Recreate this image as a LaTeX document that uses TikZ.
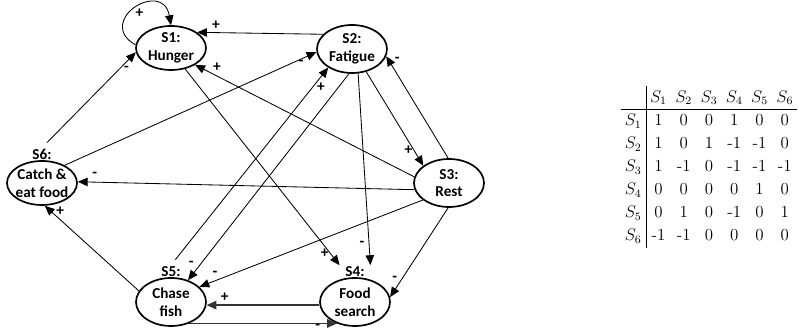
\documentclass[tikz,border=0pt]{standalone}
\usepackage{fontspec}
\newfontfamily\calfont{Carlito}
\usepackage{tikz}
\usetikzlibrary{arrows.meta,positioning,shapes.geometric}
\tikzset{
  st/.style={draw,ellipse,line width=1.2pt,minimum width=1.75cm,minimum height=1.2cm,
             inner xsep=0pt,inner ysep=-1pt,align=center,
             font=\calfont\bfseries\fontsize{10.8}{12.6}\selectfont},
  sttag/.style={inner xsep=4pt,inner ysep=1pt,font=\calfont\bfseries\fontsize{10.8}{12.6}\selectfont},
  infl/.style={-{Triangle[length=7pt,width=6pt]},line width=0.6pt},
  sgn/.style={font=\calfont\bfseries\fontsize{11}{12}\selectfont,inner sep=1pt},
}

\begin{document}
\begin{tikzpicture}[x=1cm,y=1cm,
  flat/.style={infl,line width=0.9pt,draw=black!80}]
  \useasboundingbox (0,0) rectangle (19.95,8.325);

  % states
  \node[st,minimum height=1.1cm] (S1) at (4.275,7.125) {S1:\\Hunger};
  \node[st] (S2) at (8.8,7.1)    {S2:\\Fatigue};
  \node[st] (S3) at (11.225,3.75) {S3:\\Rest};
  \node[st] (S4) at (8.875,0.775) {Food\\search};
  \node[st] (S5) at (4.275,0.775) {Chase\\fish};
  \node[st,minimum height=1.1cm,inner xsep=-1.5pt] (S6) at (1.05,3.75) {Catch \&\\eat food};
  \node[sttag,above=-1pt of S4] (S4t) {S4:};
  \node[sttag,above=-1pt of S5] (S5t) {S5:};
  \node[sttag,above=-1pt of S6] (S6t) {S6:};

  % influences
  \draw[infl] (S1.175) to[out=150,in=100,looseness=3] node[sgn,pos=0.56,below=1pt]{+} (S1.north);
  \draw[infl] (S2.153) -- node[sgn,pos=0.85,above=1pt]{+} (S1.31);
  \draw[infl] (S3.170) -- node[sgn,pos=0.9,above=2pt]{+} (S1.-35);
  \draw[infl,shorten <=5pt] (S6t.north) -- node[sgn,pos=0.9,below=2pt]{-} (S1.187);
  \draw[infl] (S6.38) -- node[sgn,pos=0.94,below]{-} (S2.185);
  \draw[infl,shorten <=5pt] (S5t.north) -- node[sgn,pos=0.9,right=2pt]{+} (S2.218);
  \draw[infl] (S2.263) -- node[sgn,pos=0.92,left=4pt]{-} (S5.52);
  \draw[infl] (S1.-56) -- node[sgn,pos=0.94,left]{+} (S4t.north west);
  \draw[infl] (S2.-76) -- node[sgn,pos=0.89,left=2pt]{-} (S4t.north east);
  \draw[infl] (S2.-58) -- node[sgn,pos=0.84,left]{+} (S3.146);
  \draw[infl] (S3.92) -- node[sgn,pos=0.96,right=3pt]{-} (S2.-12);
  \draw[infl] (S3.191) -- node[sgn,pos=0.95,above=2pt]{-} (S6.2);
  \draw[infl] (S3.213) -- node[sgn,pos=0.93,above=2pt]{-} (S5.28);
  \draw[infl] (S3.268) -- node[sgn,pos=0.8,left=2pt]{-} (S4.8);
  \draw[flat] (S4.185) -- node[sgn,pos=0.84,above=1pt]{+} (S5.-5);
  \draw[flat] (S5.-50) -- node[sgn,pos=0.87,below=-1pt]{-} (S4.-130);
  \draw[infl] (S5.161) -- node[sgn,pos=0.94,right=3pt]{+} (S6.-83);

  % adjacency matrix
  \node (tbl) at (17.725,4.15) {\fontsize{12}{14.5}\selectfont
    \setlength\tabcolsep{3pt}\renewcommand\arraystretch{1.13}%
    \begin{tabular}{c|cccccc}
      & $S_1$ & $S_2$ & $S_3$ & $S_4$ & $S_5$ & $S_6$\\ \hline
      $S_1$ & 1 & 0 & 0 & 1 & 0 & 0\\
      $S_2$ & 1 & 0 & 1 & -1 & -1 & 0\\
      $S_3$ & 1 & -1 & 0 & -1 & -1 & -1\\
      $S_4$ & 0 & 0 & 0 & 0 & 1 & 0\\
      $S_5$ & 0 & 1 & 0 & -1 & 0 & 1\\
      $S_6$ & -1 & -1 & 0 & 0 & 0 & 0
    \end{tabular}};
\end{tikzpicture}
\end{document}
